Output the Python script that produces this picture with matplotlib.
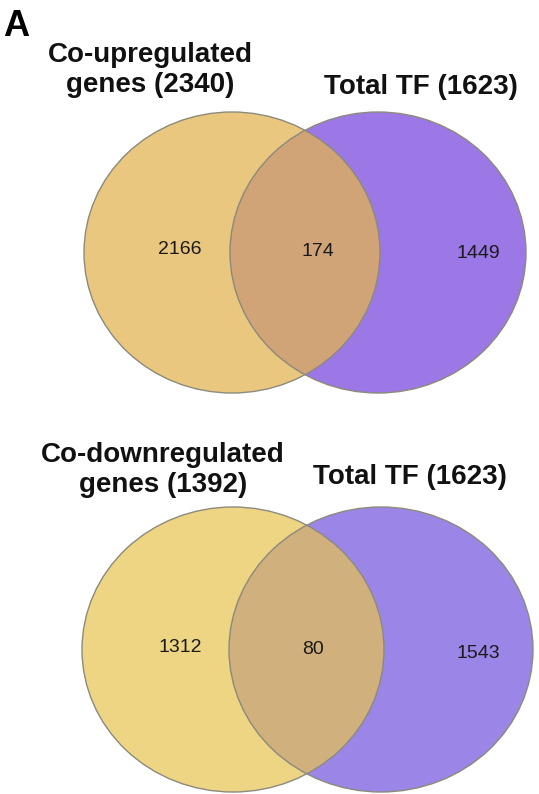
"""Two-set Venn diagrams: co-regulated genes vs. total transcription factors."""

import matplotlib

matplotlib.use("Agg")
import matplotlib.pyplot as plt
from matplotlib.patches import Ellipse

plt.rcParams["font.family"] = ["Liberation Sans", "DejaVu Sans"]

# data
SET_TITLES = ["Co-upregulated\ngenes (2340)", "Co-downregulated\ngenes (1392)"]
TF_TITLES = ["Total TF (1623)", "Total TF (1623)"]
ONLY_GENES = [2166, 1312]
SHARED = [174, 80]
ONLY_TF = [1449, 1543]

W, H = 539, 794
OUTLINE = "#8c8a7c"

# per panel: (left centre, left rx, right centre, right rx, centre y, ry)
GEOM = [
    (232, 148, 378, 148, 252.5, 140.5),
    (233, 151, 381, 152, 649.5, 142.5),
]
COLORS = [
    ("#e9c77e", "#9b78e6", "#d0a476"),
    ("#edd583", "#9b86e8", "#d0b07d"),
]
TITLE_POS = [((150, 70), (421, 87)), ((163, 470), (410, 477))]
NUM_POS = [((180, 250), (318, 252), (478, 253)),
           ((180, 648), (313, 650), (478, 654))]

fig = plt.figure(figsize=(W / 100, H / 100), dpi=100)
ax = fig.add_axes([0, 0, 1, 1])
ax.set_xlim(0, W)
ax.set_ylim(H, 0)
ax.axis("off")

for k in range(2):
    lx, lrx, rx_c, rrx, cy, ry = GEOM[k]
    c_left, c_right, c_mid = COLORS[k]
    left = Ellipse((lx, cy), 2 * lrx, 2 * ry, facecolor=c_left,
                   edgecolor="none", zorder=1)
    right = Ellipse((rx_c, cy), 2 * rrx, 2 * ry, facecolor=c_right,
                    edgecolor="none", zorder=1)
    ax.add_patch(left)
    ax.add_patch(right)
    # overlap: right ellipse again, clipped to the left one
    clip = Ellipse((lx, cy), 2 * lrx, 2 * ry, facecolor="none",
                   edgecolor="none")
    ax.add_patch(clip)
    mid = Ellipse((rx_c, cy), 2 * rrx, 2 * ry, facecolor=c_mid,
                  edgecolor="none", zorder=2)
    ax.add_patch(mid)
    mid.set_clip_path(clip)
    for cx, r in ((lx, lrx), (rx_c, rrx)):
        ax.add_patch(Ellipse((cx, cy), 2 * r, 2 * ry, facecolor="none",
                             edgecolor=OUTLINE, linewidth=1.0, zorder=3))

    (tx1, ty1), (tx2, ty2) = TITLE_POS[k]
    ax.text(tx1, ty1, SET_TITLES[k], ha="center", va="center",
            fontsize=20, fontweight="bold", linespacing=1.2, color="#111111")
    ax.text(tx2, ty2, TF_TITLES[k], ha="center", va="center",
            fontsize=20, fontweight="bold", color="#111111")

    for (nx, ny), val in zip(NUM_POS[k], (ONLY_GENES[k], SHARED[k], ONLY_TF[k])):
        ax.text(nx, ny, str(val), ha="center", va="center", fontsize=14,
                color="#1a1a1a", zorder=4)

ax.text(3, 26, "A", ha="left", va="center", fontsize=26,
        fontweight="bold", color="black")

fig.savefig("out.png", dpi=100, facecolor="white")
